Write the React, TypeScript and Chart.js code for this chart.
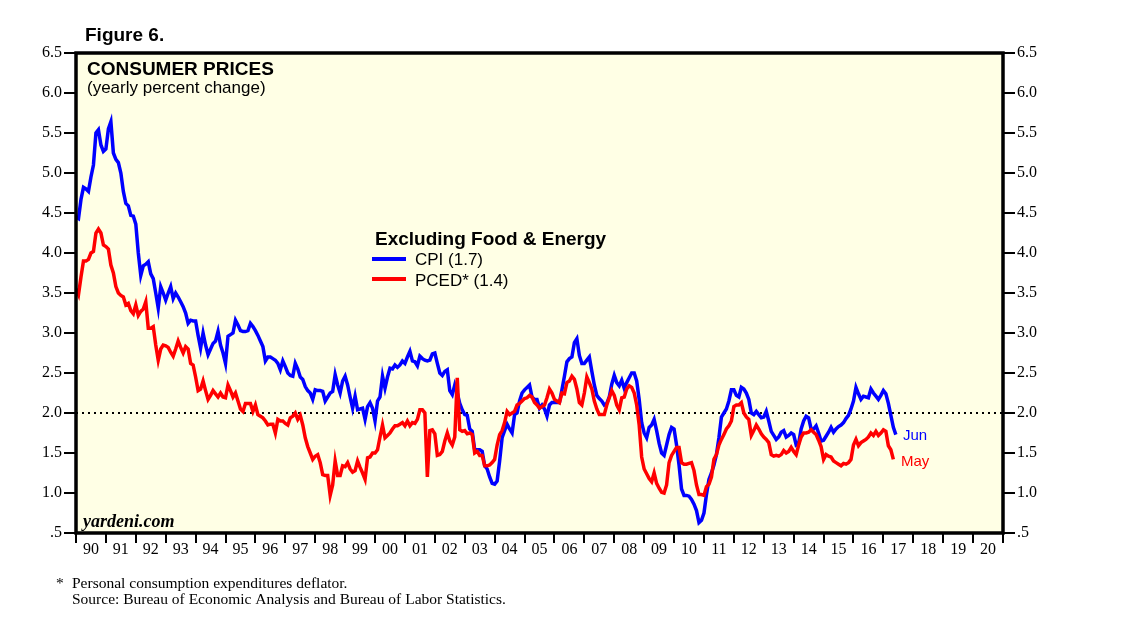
import React, { useEffect, useRef } from "react";
import { Chart, registerables } from "chart.js";

Chart.register(...registerables);

const startYear = 1990;
const yearLabels = ["90","91","92","93","94","95","96","97","98","99","00","01","02","03","04","05","06","07","08","09","10","11","12","13","14","15","16","17","18","19","20"];
const yTicksMin = 0.5;
const yTicksMax = 6.5;
const targetLevel = 2.0;

// Core CPI, yearly % change, monthly Jan 1990 - Jun 2017
const cpi = [
  4.45,4.43,4.67,4.82,4.8,4.77,4.95,5.1,5.5,5.54,5.35,5.27,
  5.3,5.55,5.64,5.25,5.17,5.13,5.0,4.77,4.62,4.59,4.47,4.46,
  4.36,4.0,3.72,3.84,3.86,3.89,3.74,3.68,3.5,3.31,3.58,3.5,
  3.41,3.5,3.58,3.43,3.5,3.45,3.39,3.33,3.25,3.12,3.16,3.15,
  3.15,2.97,2.81,3.0,2.85,2.73,2.8,2.87,2.9,3.02,2.85,2.75,
  2.62,2.96,2.98,3.0,3.16,3.1,3.03,3.02,3.02,3.03,3.12,3.08,
  3.03,2.97,2.9,2.83,2.65,2.7,2.7,2.68,2.66,2.62,2.54,2.65,
  2.58,2.5,2.47,2.46,2.62,2.55,2.45,2.42,2.33,2.28,2.25,2.17,
  2.29,2.28,2.28,2.27,2.15,2.2,2.25,2.27,2.48,2.35,2.25,2.4,
  2.46,2.35,2.2,2.06,2.21,2.04,2.05,2.06,1.92,2.08,2.13,2.06,
  1.9,2.15,2.2,2.46,2.31,2.45,2.56,2.55,2.6,2.57,2.6,2.65,
  2.62,2.7,2.77,2.65,2.64,2.59,2.71,2.68,2.66,2.65,2.66,2.74,
  2.75,2.62,2.5,2.47,2.52,2.54,2.28,2.23,2.35,2.25,2.12,2.04,
  1.98,1.97,1.8,1.77,1.54,1.54,1.54,1.52,1.34,1.3,1.2,1.12,
  1.11,1.15,1.4,1.69,1.78,1.86,1.8,1.75,1.98,2.0,2.15,2.25,
  2.29,2.32,2.35,2.2,2.17,2.17,2.06,2.1,2.05,1.96,2.1,2.13,
  2.13,2.13,2.13,2.29,2.46,2.64,2.68,2.7,2.88,2.93,2.72,2.62,
  2.62,2.66,2.7,2.52,2.35,2.22,2.18,2.15,2.1,2.12,2.2,2.36,
  2.47,2.38,2.34,2.41,2.31,2.38,2.44,2.5,2.5,2.4,2.17,1.88,
  1.75,1.69,1.82,1.85,1.92,1.78,1.62,1.5,1.47,1.6,1.73,1.82,
  1.8,1.6,1.35,1.05,0.97,0.97,0.96,0.92,0.86,0.78,0.63,0.66,
  0.75,0.98,1.17,1.25,1.35,1.48,1.69,1.95,2.0,2.05,2.15,2.29,
  2.29,2.22,2.2,2.32,2.3,2.25,2.17,2.0,1.98,2.02,1.98,1.94,
  1.95,2.02,1.9,1.77,1.72,1.67,1.7,1.76,1.78,1.7,1.72,1.75,
  1.73,1.6,1.62,1.8,1.9,1.96,1.94,1.8,1.8,1.84,1.75,1.65,
  1.66,1.71,1.76,1.82,1.76,1.8,1.83,1.85,1.88,1.93,1.97,2.05,
  2.15,2.32,2.24,2.17,2.21,2.2,2.19,2.3,2.25,2.21,2.17,2.22,
  2.28,2.24,2.12,1.97,1.82,1.73
];

// Core PCE deflator, yearly % change, monthly Jan 1990 - May 2017
const pced = [
  3.55,3.48,3.7,3.9,3.9,3.92,4.0,4.02,4.25,4.3,4.25,4.1,
  4.08,4.05,3.85,3.75,3.58,3.5,3.47,3.45,3.35,3.37,3.28,3.24,
  3.35,3.22,3.27,3.3,3.39,3.06,3.06,3.08,2.85,2.66,2.8,2.85,
  2.84,2.82,2.76,2.71,2.8,2.9,2.82,2.75,2.83,2.8,2.62,2.6,
  2.45,2.28,2.3,2.4,2.28,2.17,2.22,2.28,2.24,2.2,2.25,2.2,
  2.19,2.35,2.28,2.2,2.25,2.15,2.05,2.02,2.12,2.12,2.12,2.02,
  2.1,1.98,1.96,1.94,1.9,1.85,1.86,1.86,1.75,1.92,1.9,1.9,
  1.87,1.85,1.94,1.96,2.0,1.92,1.97,1.85,1.69,1.58,1.5,1.42,
  1.46,1.48,1.38,1.23,1.22,1.22,0.97,1.1,1.4,1.22,1.22,1.34,
  1.33,1.38,1.3,1.26,1.28,1.4,1.32,1.25,1.17,1.44,1.45,1.5,
  1.5,1.54,1.7,1.85,1.69,1.72,1.75,1.8,1.84,1.84,1.86,1.88,
  1.84,1.9,1.84,1.88,1.87,1.92,2.04,2.04,2.0,1.2,1.78,1.79,
  1.74,1.47,1.48,1.52,1.65,1.75,1.65,1.6,1.7,2.44,1.79,1.77,
  1.78,1.74,1.75,1.73,1.5,1.52,1.47,1.47,1.34,1.34,1.35,1.38,
  1.42,1.6,1.73,1.78,1.88,2.02,1.98,2.0,2.02,2.1,2.12,2.15,
  2.18,2.19,2.22,2.2,2.13,2.1,2.06,2.08,2.1,2.19,2.3,2.25,
  2.17,2.15,2.13,2.25,2.24,2.38,2.4,2.46,2.42,2.3,2.13,2.1,
  2.25,2.45,2.38,2.3,2.15,2.05,1.98,1.98,1.98,2.1,2.19,2.28,
  2.22,2.1,2.04,2.19,2.2,2.3,2.34,2.32,2.25,2.1,1.85,1.45,
  1.3,1.24,1.18,1.14,1.25,1.12,1.06,1.01,1.0,1.1,1.38,1.47,
  1.52,1.57,1.57,1.38,1.36,1.36,1.37,1.38,1.28,1.1,0.98,0.98,
  0.97,1.08,1.11,1.2,1.42,1.48,1.6,1.67,1.73,1.8,1.84,1.9,
  2.08,2.1,2.1,2.13,2.0,1.95,1.92,1.72,1.78,1.85,1.8,1.74,
  1.7,1.67,1.63,1.48,1.46,1.47,1.46,1.48,1.53,1.5,1.52,1.57,
  1.52,1.48,1.6,1.7,1.75,1.75,1.76,1.79,1.76,1.73,1.66,1.58,
  1.42,1.48,1.46,1.45,1.4,1.38,1.36,1.34,1.37,1.36,1.38,1.42,
  1.6,1.67,1.59,1.63,1.65,1.67,1.7,1.75,1.72,1.77,1.72,1.75,
  1.79,1.77,1.59,1.54,1.42
];

const SANS = "'Liberation Sans', Arial, sans-serif";
const SERIF = "'Liberation Serif', 'Times New Roman', serif";

const toPoints = (arr: number[]) => arr.map((v, i) => ({ x: startYear + i / 12, y: v }));

const framePlugin = {
  id: "frame",
  beforeDraw(chart: any) {
    const { ctx, chartArea: a } = chart;
    ctx.save();
    ctx.fillStyle = "#ffffe5";
    ctx.fillRect(a.left, a.top, a.right - a.left, a.bottom - a.top);
    ctx.restore();
  },
  afterDraw(chart: any) {
    const { ctx, chartArea: a } = chart;
    ctx.save();
    ctx.strokeStyle = "#000";
    ctx.lineWidth = 3.5;
    ctx.strokeRect(a.left, a.top, a.right - a.left, a.bottom - a.top);

    ctx.fillStyle = "#000";
    ctx.textBaseline = "alphabetic";
    ctx.textAlign = "left";
    ctx.font = `bold 19px ${SANS}`;
    ctx.fillText("Figure 6.", 85, 41);
    ctx.fillText("CONSUMER PRICES", 87, 75);
    ctx.font = `17px ${SANS}`;
    ctx.fillText("(yearly percent change)", 87, 93);

    ctx.font = `bold 19px ${SANS}`;
    ctx.fillText("Excluding Food & Energy", 375, 245);

    ctx.lineWidth = 4;
    ctx.strokeStyle = "#0000ff";
    ctx.beginPath(); ctx.moveTo(372, 259); ctx.lineTo(406, 259); ctx.stroke();
    ctx.strokeStyle = "#ff0000";
    ctx.beginPath(); ctx.moveTo(372, 279); ctx.lineTo(406, 279); ctx.stroke();
    ctx.font = `17px ${SANS}`;
    ctx.textBaseline = "middle";
    ctx.fillStyle = "#000";
    ctx.fillText("CPI (1.7)", 415, 260);
    ctx.fillText("PCED* (1.4)", 415, 281);

    ctx.font = `15px ${SANS}`;
    ctx.fillStyle = "#0000ff";
    ctx.fillText("Jun", 903, 436);
    ctx.fillStyle = "#ff0000";
    ctx.fillText("May", 901, 462);

    ctx.textBaseline = "alphabetic";
    ctx.fillStyle = "#000";
    ctx.font = `italic bold 18px ${SERIF}`;
    ctx.fillText("yardeni.com", 83, 527);

    ctx.font = `15.5px ${SERIF}`;
    ctx.fillText("*", 56, 588);
    ctx.fillText("Personal consumption expenditures deflator.", 72, 588);
    ctx.fillText("Source: Bureau of Economic Analysis and Bureau of Labor Statistics.", 72, 604);
    ctx.restore();
  },
};

const yTick = (v: any) => (Math.abs(v - 0.5) < 1e-9 ? ".5" : Number(v).toFixed(1));

export default function App() {
  const ref = useRef<HTMLCanvasElement | null>(null);
  useEffect(() => {
    if (!ref.current) return;
    const yCommon = {
      type: "linear" as const,
      min: yTicksMin,
      max: yTicksMax,
      border: { display: false },
      grid: { drawOnChartArea: false, drawTicks: true, tickLength: 12, color: "#000", lineWidth: 2 },
      ticks: { stepSize: 0.5, callback: yTick, color: "#000", font: { family: SERIF, size: 16 }, padding: 2 },
    };
    const chart = new Chart(ref.current, {
      type: "line",
      data: {
        datasets: [
          { label: "PCED*", data: toPoints(pced), borderColor: "#ff0000", borderWidth: 3.5, pointRadius: 0, tension: 0, xAxisID: "x", yAxisID: "y" },
          { label: "CPI", data: toPoints(cpi), borderColor: "#0000ff", borderWidth: 3.5, pointRadius: 0, tension: 0, xAxisID: "x", yAxisID: "y" },
          { label: "target", data: [{ x: startYear, y: targetLevel }, { x: startYear + yearLabels.length, y: targetLevel }], borderColor: "#000", borderWidth: 2, borderDash: [2, 4], pointRadius: 0, xAxisID: "x", yAxisID: "y" },
        ],
      },
      options: {
        animation: false,
        responsive: true,
        maintainAspectRatio: false,
        layout: { padding: { top: 53, left: 0, right: 0, bottom: 0 } },
        plugins: { legend: { display: false }, tooltip: { enabled: false }, title: { display: false } },
        events: [],
        scales: {
          x: { type: "linear", min: startYear, max: startYear + yearLabels.length, display: false },
          xYears: {
            type: "category",
            labels: yearLabels,
            position: "bottom",
            offset: true,
            border: { display: false },
            grid: { offset: true, drawOnChartArea: false, drawTicks: true, tickLength: 10, color: "#000", lineWidth: 2 },
            ticks: { color: "#000", font: { family: SERIF, size: 16 }, padding: -3, autoSkip: false, maxRotation: 0 },
            afterFit: (s: any) => { s.height = 88; },
          } as any,
          y: { ...yCommon, position: "left", afterFit: (s: any) => { s.width = 76; } } as any,
          y2: { ...yCommon, position: "right", afterFit: (s: any) => { s.width = 135; } } as any,
        },
      },
      plugins: [framePlugin],
    });
    return () => chart.destroy();
  }, []);
  return (
    <div style={{ position: "absolute", left: 0, top: 0, width: 1138, height: 621, background: "#fff" }}>
      <canvas ref={ref} />
    </div>
  );
}
